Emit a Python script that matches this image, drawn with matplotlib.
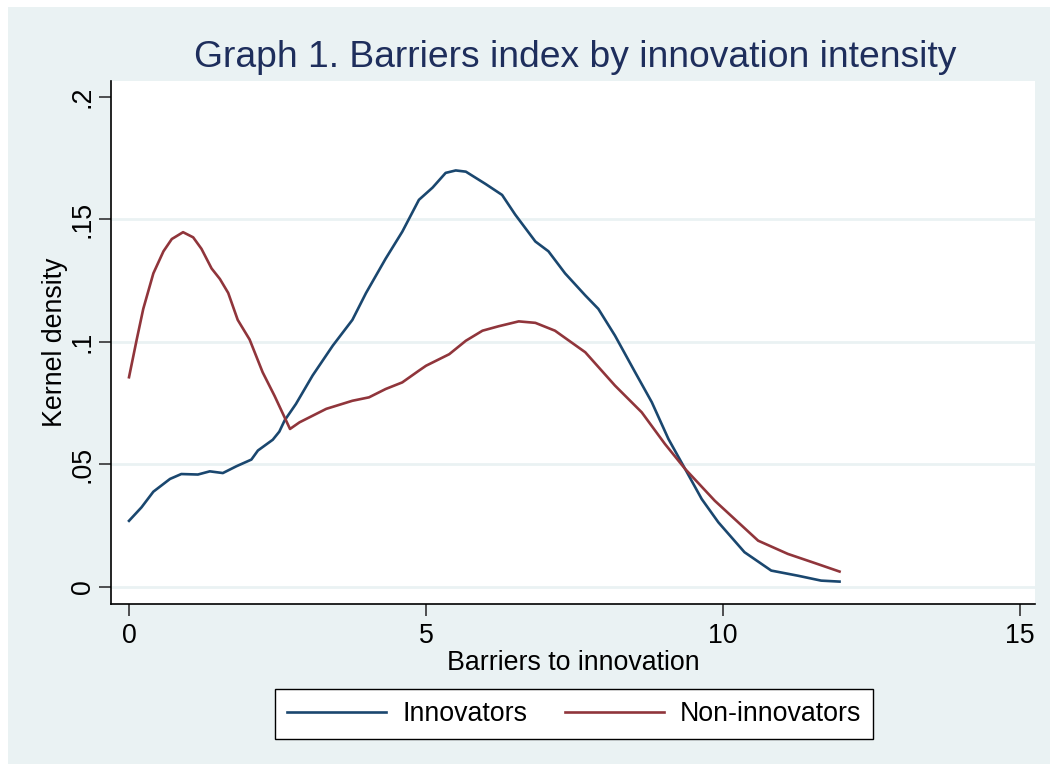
import matplotlib
matplotlib.use("Agg")
import matplotlib.pyplot as plt
from matplotlib.patches import Rectangle

plt.rcParams['font.family'] = ['Liberation Sans', 'DejaVu Sans']

title = "Graph 1. Barriers index by innovation intensity"
xlabel = "Barriers to innovation"
ylabel = "Kernel density"
series_names = ["Innovators", "Non-innovators"]
xticks = [0, 5, 10, 15]
yticks = [0, 0.05, 0.1, 0.15, 0.2]
ytick_labels = ["0", ".05", ".1", ".15", ".2"]

innov_x = [0, 0.21, 0.41, 0.69, 0.88, 1.16, 1.36, 1.58, 1.81, 2.06, 2.17, 2.42, 2.53, 2.62,
           2.81, 3.09, 3.43, 3.76, 3.99, 4.32, 4.60, 4.88, 5.11, 5.33, 5.50, 5.67, 6.0, 6.28,
           6.50, 6.84, 7.06, 7.34, 7.68, 7.90, 8.18, 8.52, 8.80, 9.08, 9.36, 9.64, 9.92,
           10.36, 10.81, 11.26, 11.65, 11.96]
innov_y = [0.027, 0.0325, 0.0389, 0.0441, 0.0461, 0.0459, 0.0472, 0.0465, 0.0493, 0.052,
           0.0557, 0.0601, 0.0634, 0.068, 0.0747, 0.0863, 0.0985, 0.109, 0.120, 0.134, 0.145,
           0.158, 0.163, 0.169, 0.170, 0.1695, 0.1645, 0.160, 0.152, 0.141, 0.137, 0.128,
           0.119, 0.1135, 0.1026, 0.0876, 0.0754, 0.0604, 0.0482, 0.0359, 0.0264, 0.0142,
           0.0067, 0.0046, 0.0026, 0.0022]

non_x = [0, 0.13, 0.24, 0.41, 0.58, 0.72, 0.91, 1.08, 1.22, 1.39, 1.53, 1.67, 1.83, 2.03,
         2.25, 2.45, 2.71, 2.87, 3.32, 3.76, 4.04, 4.32, 4.60, 4.88, 5.0, 5.39, 5.67, 5.95,
         6.22, 6.56, 6.84, 7.17, 7.68, 8.18, 8.63, 9.02, 9.36, 9.86, 10.59, 11.09, 11.54, 11.96]
non_y = [0.0856, 0.101, 0.1135, 0.128, 0.137, 0.142, 0.1448, 0.1427, 0.138, 0.130, 0.1257,
         0.120, 0.109, 0.101, 0.0876, 0.078, 0.0645, 0.0672, 0.0727, 0.076, 0.0774, 0.0808,
         0.0835, 0.0883, 0.0903, 0.095, 0.1005, 0.1046, 0.1064, 0.1084, 0.1078, 0.1046,
         0.0958, 0.0822, 0.0713, 0.0584, 0.0482, 0.0352, 0.0189, 0.0135, 0.0098, 0.0063]

W, H = 1057, 771
BG = "#EAF2F3"
BLUE = "#1A476F"
RED = "#90353B"
TITLE_C = "#1E2E5C"

fig = plt.figure(figsize=(W / 100, H / 100), dpi=100, facecolor="white")
fig.patches.append(Rectangle((8 / W, 1 - 764 / H), (1050 - 8) / W, (764 - 7) / H,
                             transform=fig.transFigure, facecolor=BG, edgecolor="none", zorder=-10))

ax = fig.add_axes([111 / W, 1 - 604 / H, (1035 - 111) / W, (604 - 81) / H])
ax.set_zorder(1)
ax.set_facecolor("white")
ax.plot(innov_x, innov_y, color=BLUE, lw=1.9, label=series_names[0], zorder=3)
ax.plot(non_x, non_y, color=RED, lw=1.9, label=series_names[1], zorder=3)

ax.set_xlim(-0.303, 15.25)
ax.set_ylim(-0.00694, 0.2065)
ax.set_xticks(xticks)
ax.set_xticklabels([str(t) for t in xticks])
ax.set_yticks(yticks)
ax.set_yticklabels(ytick_labels, rotation=90, va="center")
for y in yticks[:-1]:
    ax.axhline(y, color=BG, lw=2, zorder=1)

for s in ["top", "right"]:
    ax.spines[s].set_visible(False)
for s in ["left", "bottom"]:
    ax.spines[s].set_color("black")
    ax.spines[s].set_linewidth(1.2)
ax.tick_params(axis="both", length=8.5, width=1.2, color="#333333", labelsize=19.3)
ax.tick_params(axis="x", pad=5)
ax.tick_params(axis="y", pad=2.5)

ax.set_xlabel(xlabel, fontsize=19.3, va="baseline")
ax.xaxis.set_label_coords(0.5, (604 - 670) / (604 - 81))
ax.set_ylabel(ylabel, fontsize=19.3, va="baseline")
ax.yaxis.set_label_coords((62 - 111) / (1035 - 111), 0.5)

fig.text(575 / W, 1 - 67 / H, title, fontsize=26.8, color=TITLE_C, ha="center", va="baseline")

handles, labels = ax.get_legend_handles_labels()
leg = fig.legend(handles, labels, loc="center", bbox_to_anchor=(574 / W, 1 - 714 / H),
                 ncol=2, fontsize=19.3, frameon=True, fancybox=False, edgecolor="black",
                 facecolor="white", framealpha=1, handlelength=3.7, handletextpad=0.6,
                 columnspacing=1.4, borderpad=0.45)
leg.get_frame().set_linewidth(1.0)

fig.savefig("out.png", dpi=100, facecolor="white")
